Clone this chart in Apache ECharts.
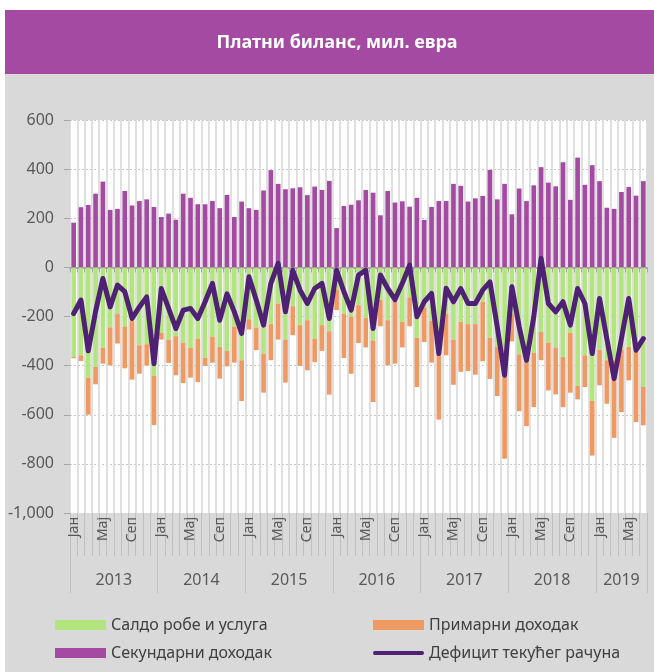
<!DOCTYPE html>
<html>
<head>
<meta charset="utf-8">
<script src="https://cdn.jsdelivr.net/npm/echarts@6.0.0/dist/echarts.min.js"></script>
<style>
  html, body { margin: 0; padding: 0; background: #ffffff; }
  #panel { position: absolute; left: 5px; top: 10px; width: 649px; height: 662px; background: #d9d9d9; border-top: 1px solid #cfcfcf; }
  #chart { position: absolute; left: 0; top: 0; width: 654px; height: 672px; }
</style>
</head>
<body>
<div id="panel"></div>
<div id="chart"></div>
<script>
// платни биланс, мил. евра — месечно, јан 2013 – јул 2019
const years = ['2013', '2014', '2015', '2016', '2017', '2018', '2019']
const monthsInYear = [12, 12, 12, 12, 12, 12, 7]
const monthNames = ['Јан', 'Феб', 'Мар', 'Апр', 'Мај', 'Јун', 'Јул', 'Авг', 'Сеп', 'Окт', 'Нов', 'Дец']
const shownMonths = ['Јан', 'Мај', 'Сеп']

// Салдо робе и услуга
const goodsServices = [
  -365, -358, -450, -405, -328, -244, -190, -240, -218, -317, -313, -442,
  -267, -294, -280, -307, -328, -290, -367, -283, -324, -340, -242, -378,
  -211, -245, -351, -231, -147, -294, -158, -235, -215, -290, -235, -260,
  -90, -188, -201, -154, -206, -297, -133, -215, -136, -222, -122, -286,
  -163, -218, -335, -188, -294, -222, -231, -231, -140, -287, -324, -446,
  -188, -354, -385, -348, -263, -306, -326, -365, -267, -483, -358, -544,
  -335, -378, -378, -335, -324, -344, -487
]
// Примарни доходак
const primaryIncome = [
  -5, -23, -150, -71, -64, -155, -120, -171, -239, -116, -87, -200,
  -27, -95, -159, -164, -121, -177, -34, -105, -129, -63, -146, -166,
  -42, -92, -159, -147, -147, -175, -118, -166, -204, -96, -105, -258,
  -84, -181, -232, -154, -120, -251, -107, -184, -256, -104, -118, -201,
  -141, -170, -285, -170, -184, -203, -191, -206, -242, -167, -200, -333,
  -113, -232, -261, -221, -115, -195, -191, -204, -243, -54, -129, -222,
  -145, -177, -316, -254, -136, -286, -156
]
// Секундарни доходак
const secondaryIncome = [
  182, 245, 254, 300, 349, 234, 238, 311, 252, 270, 277, 246,
  205, 219, 194, 300, 283, 257, 257, 270, 241, 295, 205, 268,
  241, 234, 313, 396, 340, 318, 322, 326, 294, 329, 315, 352,
  160, 250, 255, 273, 315, 304, 212, 311, 264, 269, 247, 283,
  193, 246, 270, 270, 340, 332, 268, 281, 291, 397, 277, 340,
  216, 321, 270, 334, 408, 345, 330, 428, 275, 447, 336, 416,
  351, 243, 238, 307, 327, 292, 351
]
// Дефицит текућег рачуна
const currentAccount = [
  -188, -133, -340, -180, -45, -161, -72, -99, -208, -161, -120, -392,
  -86, -167, -249, -174, -167, -208, -140, -65, -215, -108, -181, -269,
  -38, -133, -235, -65, 16, -181, -11, -93, -147, -86, -65, -208,
  -11, -99, -174, -31, -11, -249, -31, -86, -131, -65, 9, -201,
  -140, -106, -351, -85, -140, -86, -147, -147, -93, -59, -242, -439,
  -79, -242, -378, -201, 37, -147, -181, -140, -235, -86, -147, -351,
  -127, -290, -453, -290, -127, -337, -290
]

const yTicks = { min: -1000, max: 600, step: 200 }

const categories = []
years.forEach((y, yi) => {
  for (let m = 0; m < monthsInYear[yi]; m++) categories.push(monthNames[m] + ' ' + y)
})
const total = categories.length
const yearBounds = [0]
const yearCenters = []
monthsInYear.forEach((n) => {
  const start = yearBounds[yearBounds.length - 1]
  yearCenters.push(start + n / 2)
  yearBounds.push(start + n)
})

const font = 'Noto Sans'
const textGray = '#595959'
const lineColor = '#4e2174'

const chart = echarts.init(document.getElementById('chart'))
chart.setOption({
  animation: false,
  textStyle: { fontFamily: font },
  graphic: [
    { type: 'rect', left: 5, top: 10, shape: { width: 649, height: 64 }, style: { fill: '#a44aa3' } },
    {
      type: 'text', x: 337, y: 43,
      style: {
        text: 'Платни биланс, мил. евра', fill: '#ffffff', font: 'bold 18px "Noto Sans"',
        textAlign: 'center', textVerticalAlign: 'middle'
      }
    }
  ],
  grid: {
    left: 70, right: 7, top: 120, bottom: 159,
    show: true, backgroundColor: '#ffffff', borderWidth: 0
  },
  legend: [
    {
      data: ['Салдо робе и услуга', 'Секундарни доходак'],
      orient: 'vertical', left: 50, top: 612, itemGap: 12,
      itemWidth: 51, itemHeight: 10, icon: 'rect',
      textStyle: { fontSize: 16, color: '#404040' }
    },
    {
      data: [
        { name: 'Примарни доходак', icon: 'rect' },
        { name: 'Дефицит текућег рачуна', icon: 'path://M2,0 L50,0 A2,2 0 0 1 50,4 L2,4 A2,2 0 0 1 2,0 Z' }
      ],
      orient: 'vertical', left: 368, top: 612, itemGap: 12,
      itemWidth: 51, itemHeight: 10,
      textStyle: { fontSize: 16, color: '#404040' }
    }
  ],
  xAxis: [
    {
      type: 'category', data: categories, position: 'bottom',
      axisLine: { onZero: false, lineStyle: { color: '#d9d9d9' } },
      axisTick: { show: true, interval: 0, length: 43, lineStyle: { color: '#bfbfbf' } },
      axisLabel: {
        interval: 0, rotate: 90, margin: 4, fontSize: 14, color: textGray,
        formatter: (v) => {
          const m = v.split(' ')[0]
          return shownMonths.includes(m) ? m : ''
        }
      },
      splitLine: { show: true, interval: 0, lineStyle: { color: '#d6d6d6', width: 1.5 } }
    },
    {
      type: 'value', min: 0, max: total, position: 'bottom',
      axisLine: { show: false, onZero: false },
      axisTick: { show: true, customValues: yearBounds, length: 80, lineStyle: { color: '#bfbfbf' } },
      axisLabel: {
        customValues: yearCenters, margin: 59, fontSize: 16, color: textGray,
        formatter: (v) => years[yearCenters.indexOf(v)] || ''
      },
      splitLine: { show: false }
    },
    {
      type: 'category', data: categories, position: 'bottom',
      axisLine: { onZero: true, lineStyle: { color: '#a6a6a6', width: 2 } },
      axisTick: { show: true, interval: 0, length: 5, lineStyle: { color: '#a6a6a6' } },
      axisLabel: { show: false },
      splitLine: { show: false }
    }
  ],
  yAxis: {
    type: 'value', min: yTicks.min, max: yTicks.max, interval: yTicks.step,
    axisLine: { show: false },
    axisTick: { show: true, length: 6, lineStyle: { color: '#a6a6a6' } },
    axisLabel: { fontSize: 16, color: textGray, margin: 16 },
    splitLine: { lineStyle: { color: '#c8c8c8', type: [2, 2] } }
  },
  series: [
    {
      name: 'Салдо робе и услуга', type: 'bar', stack: 'bp', data: goodsServices,
      barCategoryGap: '36%', itemStyle: { color: '#b3e57e' }
    },
    {
      name: 'Примарни доходак', type: 'bar', stack: 'bp', data: primaryIncome,
      itemStyle: { color: '#f09a63' }
    },
    {
      name: 'Секундарни доходак', type: 'bar', stack: 'bp', data: secondaryIncome,
      itemStyle: { color: '#a44aa3' }
    },
    {
      name: 'Дефицит текућег рачуна', type: 'line', data: currentAccount,
      symbol: 'none', z: 5,
      lineStyle: { color: lineColor, width: 5, join: 'round', cap: 'round' },
      itemStyle: { color: lineColor }
    }
  ]
})
</script>
</body>
</html>
